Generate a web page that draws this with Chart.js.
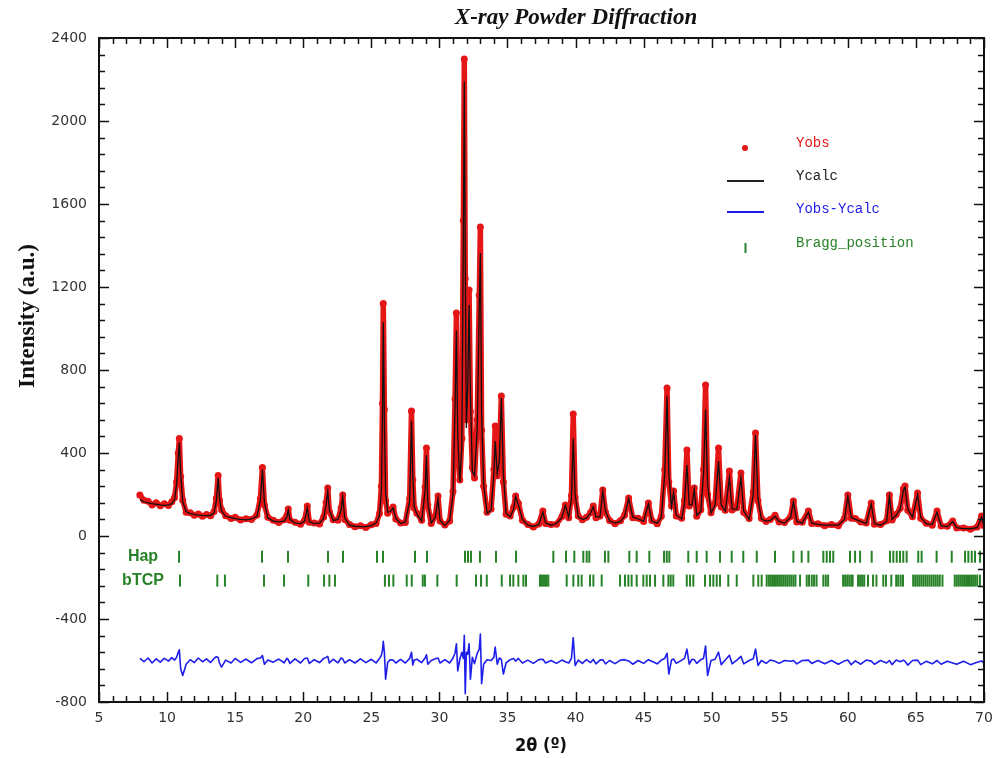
<!DOCTYPE html>
<html>
<head>
<meta charset="utf-8">
<title>X-ray Powder Diffraction</title>
<script src="https://cdn.jsdelivr.net/npm/chart.js@4.4.1/dist/chart.umd.min.js"></script>
<style>
    body { margin: 0; background: #fff; }
    #wrap { width: 1003px; height: 758px; }
</style>
</head>
<body>
<div id="wrap"><canvas id="chart" width="1003" height="758"></canvas></div>
<script>
// 2theta grid (deg)
let twoTheta = [
    8.0, 8.3, 8.6, 8.9, 9.2, 9.5, 9.8, 10.1, 10.35, 10.55,
    10.7, 10.82, 10.9, 11.0, 11.15, 11.4, 11.7, 12.0, 12.3, 12.6,
    12.9, 13.2, 13.45, 13.62, 13.75, 13.85, 14.0, 14.3, 14.7, 15.0,
    15.4, 15.8, 16.2, 16.6, 16.85, 17.0, 17.15, 17.4, 17.8, 18.2,
    18.6, 18.8, 18.9, 19.02, 19.4, 19.8, 20.1, 20.3, 20.45, 20.8,
    21.2, 21.5, 21.68, 21.8, 21.92, 22.2, 22.55, 22.78, 22.9, 23.05,
    23.4, 23.8, 24.2, 24.6, 25.0, 25.35, 25.6, 25.74, 25.82, 25.88,
    25.96, 26.05, 26.2, 26.4, 26.6, 26.8, 27.15, 27.5, 27.82, 27.95,
    28.05, 28.15, 28.35, 28.7, 28.95, 29.05, 29.15, 29.4, 29.7, 29.9,
    30.05, 30.4, 30.75, 31.0, 31.15, 31.25, 31.35, 31.5, 31.65, 31.76,
    31.83, 31.9, 31.98, 32.08, 32.18, 32.28, 32.42, 32.58, 32.78, 32.93,
    33.01, 33.1, 33.25, 33.5, 33.8, 34.0, 34.1, 34.25, 34.4, 34.55,
    34.7, 34.9, 35.2, 35.45, 35.6, 35.8, 36.1, 36.5, 36.9, 37.3,
    37.6, 37.8, 38.2, 38.6, 39.0, 39.25, 39.5, 39.7, 39.83, 39.97,
    40.2, 40.5, 40.8, 41.1, 41.3, 41.5, 41.8, 42.0, 42.2, 42.5,
    42.9, 43.3, 43.6, 43.9, 44.2, 44.6, 45.0, 45.35, 45.6, 46.0,
    46.3, 46.55, 46.72, 46.85, 47.05, 47.2, 47.4, 47.8, 48.0, 48.18,
    48.35, 48.55, 48.72, 48.9, 49.2, 49.4, 49.55, 49.7, 49.95, 50.25,
    50.5, 50.7, 51.0, 51.3, 51.5, 51.85, 52.15, 52.35, 52.75, 53.05,
    53.22, 53.4, 53.65, 54.0, 54.3, 54.65, 54.95, 55.35, 55.8, 56.0,
    56.25, 56.65, 57.1, 57.35, 57.8, 58.3, 58.8, 59.3, 59.75, 60.0,
    60.25, 60.55, 60.95, 61.35, 61.72, 61.95, 62.4, 62.85, 63.05, 63.25,
    63.55, 63.85, 64.08, 64.2, 64.4, 64.75, 65.12, 65.35, 65.75, 66.2,
    66.55, 66.85, 67.3, 67.7, 68.0, 68.5, 69.0, 69.5, 69.82, 70.0
];

let yObs = [
    198, 172, 168, 150, 160, 146, 156, 147, 165, 185,
    262, 400, 470, 285, 172, 114, 112, 100, 106, 95,
    104, 97, 118, 182, 292, 172, 126, 98, 84, 90,
    77, 83, 79, 101, 180, 330, 150, 90, 76, 65,
    78, 100, 130, 76, 66, 57, 76, 145, 66, 63,
    58, 92, 162, 231, 118, 78, 76, 135, 198, 80,
    55, 44, 49, 41, 54, 60, 108, 240, 640, 1120,
    610, 170, 110, 125, 140, 82, 63, 65, 182, 602,
    270, 135, 110, 76, 235, 424, 150, 60, 96, 193,
    72, 53, 72, 215, 660, 1075, 440, 270, 470, 1520,
    2299, 1240, 560, 760, 1185, 600, 330, 280, 560, 1160,
    1489, 510, 240, 115, 130, 320, 530, 290, 380, 675,
    260, 105, 96, 138, 193, 158, 76, 55, 43, 58,
    120, 60, 55, 57, 94, 150, 88, 195, 588, 185,
    96, 78, 90, 112, 145, 88, 96, 222, 115, 75,
    59, 74, 100, 183, 88, 86, 70, 159, 75, 59,
    95, 320, 713, 260, 145, 217, 96, 86, 170, 414,
    145, 158, 231, 95, 126, 320, 728, 200, 112, 158,
    424, 140, 124, 313, 125, 136, 304, 114, 84, 212,
    496, 170, 85, 70, 79, 100, 68, 65, 94, 169,
    67, 66, 120, 60, 59, 50, 55, 49, 84, 198,
    86, 84, 67, 63, 159, 57, 55, 73, 198, 77,
    104, 134, 228, 241, 124, 93, 207, 86, 62, 52,
    120, 48, 47, 72, 38, 39, 33, 43, 96, 50
];

let yCalc = [
    175, 165, 160, 156, 153, 150, 148, 150, 156, 175,
    250, 380, 450, 300, 165, 118, 108, 104, 101, 99,
    98, 100, 112, 170, 280, 180, 120, 95, 88, 84,
    80, 78, 82, 95, 170, 320, 160, 88, 72, 68,
    72, 92, 125, 80, 62, 60, 72, 135, 70, 60,
    62, 85, 150, 215, 125, 75, 80, 125, 190, 85,
    52, 47, 45, 45, 50, 62, 100, 220, 580, 1030,
    560, 210, 115, 118, 135, 85, 60, 68, 170, 555,
    290, 140, 105, 72, 220, 390, 160, 62, 90, 180,
    75, 50, 75, 200, 620, 990, 480, 260, 430, 1450,
    2190, 1350, 520, 720, 1113, 680, 310, 290, 520, 1100,
    1364, 600, 250, 110, 125, 300, 458, 300, 360, 665,
    300, 110, 92, 130, 190, 150, 80, 52, 46, 55,
    115, 62, 52, 60, 90, 148, 90, 180, 470, 200,
    92, 80, 86, 110, 140, 92, 92, 215, 120, 72,
    62, 70, 95, 180, 92, 82, 72, 155, 72, 62,
    90, 300, 674, 300, 140, 210, 100, 82, 160, 342,
    150, 150, 225, 100, 120, 300, 610, 250, 110, 150,
    361, 150, 120, 280, 130, 130, 280, 120, 80, 200,
    487, 180, 82, 72, 75, 95, 70, 62, 90, 165,
    70, 62, 115, 62, 56, 52, 52, 52, 80, 190,
    90, 80, 70, 60, 155, 60, 52, 70, 190, 80,
    100, 130, 220, 235, 130, 90, 200, 90, 60, 55,
    115, 50, 45, 70, 40, 36, 35, 40, 90, 45
];

// difference curve as drawn (shifted down in the plot)
let yDiff = [
    -590, -606, -588, -612, -592, -608, -590, -603, -586, -598,
    -584, -560, -548, -640, -672, -618, -596, -610, -588, -606,
    -592, -610, -590, -582, -586, -612, -632, -598, -612, -590,
    -609, -593, -611, -591, -588, -576, -618, -598, -608, -593,
    -611, -590, -596, -614, -592, -612, -590, -588, -614, -596,
    -610, -590, -585, -580, -612, -594, -611, -588, -592, -612,
    -596, -612, -592, -610, -594, -612, -590, -575, -552, -508,
    -560, -690, -610, -596, -598, -612, -595, -612, -590, -560,
    -622, -598, -594, -610, -588, -572, -618, -600, -592, -588,
    -612, -596, -612, -588, -565, -520, -650, -594, -560, -590,
    -478, -760, -560, -570, -520, -690, -585, -615, -565, -545,
    -472, -712, -618, -596, -600, -585, -535, -618, -588, -595,
    -665, -612, -596, -590, -603, -590, -612, -598, -614, -596,
    -594, -612, -600, -614, -598, -606, -612, -590, -490, -624,
    -598, -614, -596, -610, -595, -616, -598, -596, -616, -600,
    -615, -598, -596, -602, -618, -600, -614, -596, -604, -616,
    -598, -590, -565, -665, -598, -593, -614, -598, -590, -545,
    -618, -594, -596, -614, -596, -590, -530, -672, -600, -594,
    -560, -620, -598, -575, -616, -598, -580, -616, -600, -592,
    -545, -624, -600, -614, -598, -604, -614, -600, -604, -600,
    -616, -600, -598, -614, -600, -616, -600, -618, -602, -598,
    -620, -602, -618, -598, -603, -618, -600, -612, -600, -620,
    -598, -606, -598, -604, -622, -600, -598, -620, -604, -616,
    -600, -618, -604, -612, -618, -604, -620, -608, -602, -614
];

// Bragg reflections (2theta) of both phases
let hapPositions = [
    10.88, 16.97, 18.88, 21.82, 22.92, 25.42, 25.86, 28.21, 29.09, 31.88,
    32.1, 32.32, 32.98, 34.16, 35.63, 38.37, 39.3, 39.91, 40.57, 40.82,
    41.01, 42.16, 42.41, 43.95, 44.49, 45.42, 46.5, 46.7, 46.89, 48.28,
    48.9, 49.63, 50.61, 51.47, 52.32, 53.31, 54.65, 56.0, 56.61, 57.1,
    58.2, 58.45, 58.69, 58.93, 60.16, 60.53, 60.9, 61.75, 63.1, 63.34,
    63.59, 63.83, 64.07, 64.32, 65.17, 65.42, 66.52, 67.63, 68.61, 68.85,
    69.1, 69.34, 69.71
];

let tcpPositions = [
    10.95, 13.69, 14.25, 17.12, 18.59, 20.37, 21.53, 21.92, 22.33, 26.0,
    26.3, 26.62, 27.6, 27.97, 28.78, 28.94, 29.85, 31.27, 32.69, 33.06,
    33.48, 34.58, 35.19, 35.43, 35.8, 36.17, 36.36, 37.39, 37.52, 37.63,
    37.76, 37.88, 38.0, 39.35, 39.84, 40.2, 40.45, 41.06, 41.31, 41.92,
    43.27, 43.63, 43.88, 44.12, 44.49, 44.98, 45.23, 45.47, 45.84, 46.45,
    46.82, 46.99, 47.18, 48.17, 48.41, 48.65, 49.51, 49.88, 50.12, 50.37,
    50.61, 51.22, 51.84, 53.06, 53.42, 53.67, 54.04, 54.2, 54.35, 54.5,
    54.65, 54.8, 54.95, 55.1, 55.25, 55.4, 55.55, 55.7, 55.85, 56.0,
    56.15, 56.49, 56.98, 57.15, 57.35, 57.52, 57.7, 58.2, 58.38, 58.55,
    59.65, 59.8, 59.95, 60.1, 60.25, 60.35, 60.75, 60.9, 61.05, 61.2,
    61.48, 61.85, 62.1, 62.6, 62.8, 63.19, 63.55, 63.7, 63.88, 64.05,
    64.8, 64.95, 65.1, 65.25, 65.4, 65.55, 65.7, 65.85, 66.0, 66.15,
    66.3, 66.45, 66.6, 66.75, 66.95, 67.85, 68.0, 68.15, 68.3, 68.45,
    68.6, 68.75, 68.9, 69.05, 69.2, 69.35, 69.5, 69.7
];

let phaseNames = ['Hap', 'bTCP'];
let phaseLevels = [-100, -215];

let xTicks = [5, 10, 15, 20, 25, 30, 35, 40, 45, 50, 55, 60, 65, 70];
let yTicks = [-800, -400, 0, 400, 800, 1200, 1600, 2000, 2400];

let legendLabels = ['Yobs', 'Ycalc', 'Yobs-Ycalc', 'Bragg_position'];

const RED = 'rgb(228, 22, 22)';
const GREEN = 'rgb(40, 130, 40)';
const BLUE = 'rgb(30, 30, 235)';

let toPoints = function (xs, ys) {
    let pts = [];
    for (let i = 0; i < xs.length; i++) {
        pts.push({x: xs[i], y: ys[i]});
    }
    return pts;
}

let braggPoints = function (xs, level) {
    return xs.map(v => ({x: v, y: level}));
}

// frame, inward ticks on all 4 sides, titles, legend, phase names
const decorPlugin = {
    id: 'decor',
    afterDraw(chart) {
        const ctx = chart.ctx;
        const a = chart.chartArea;
        const xs = chart.scales.x;
        const ys = chart.scales.y;
        ctx.save();

        ctx.strokeStyle = '#111';
        ctx.lineWidth = 1.5;
        for (let v = 5; v <= 70; v++) {
            let px = Math.round(xs.getPixelForValue(v)) + 0.5;
            let len = (v % 5 === 0) ? 10 : 6;
            ctx.beginPath();
            ctx.moveTo(px, a.bottom); ctx.lineTo(px, a.bottom - len);
            ctx.moveTo(px, a.top); ctx.lineTo(px, a.top + len);
            ctx.stroke();
        }
        for (let v = -800; v <= 2400; v += 80) {
            let py = Math.round(ys.getPixelForValue(v)) + 0.5;
            let len = (v % 400 === 0) ? 10 : 6;
            ctx.beginPath();
            ctx.moveTo(a.left, py); ctx.lineTo(a.left + len, py);
            ctx.moveTo(a.right, py); ctx.lineTo(a.right - len, py);
            ctx.stroke();
        }
        ctx.lineWidth = 2;
        ctx.strokeRect(a.left, a.top, a.right - a.left, a.bottom - a.top);

        // title
        ctx.fillStyle = '#111';
        ctx.textAlign = 'center';
        ctx.textBaseline = 'alphabetic';
        ctx.font = 'bold italic 23px "Liberation Serif", "DejaVu Serif", serif';
        ctx.fillText('X-ray Powder Diffraction', 576, 24);

        // axis titles
        ctx.font = 'bold 18px "DejaVu Sans Condensed", "Liberation Sans Narrow", sans-serif';
        ctx.textBaseline = 'middle';
        ctx.fillText('2θ (º)', 541, 746);

        ctx.save();
        ctx.translate(34, 316);
        ctx.rotate(-Math.PI / 2);
        ctx.textBaseline = 'alphabetic';
        ctx.font = 'bold 23px "Liberation Serif", "DejaVu Serif", serif';
        ctx.fillText('Intensity (a.u.)', 0, 0);
        ctx.restore();

        // phase names
        ctx.font = 'bold 16px "Liberation Sans", Arial, sans-serif';
        ctx.fillStyle = GREEN;
        ctx.textBaseline = 'middle';
        for (let i = 0; i < phaseNames.length; i++) {
            ctx.fillText(phaseNames[i], 143, ys.getPixelForValue(phaseLevels[i]));
        }

        // legend
        ctx.font = '14px "Liberation Mono", "DejaVu Sans Mono", monospace';
        ctx.textAlign = 'left';
        const colors = [RED, '#222', BLUE, GREEN];
        const rows = [143, 176, 209, 243];
        for (let i = 0; i < legendLabels.length; i++) {
            ctx.fillStyle = colors[i];
            ctx.fillText(legendLabels[i], 796, rows[i]);
        }
        ctx.fillStyle = RED;
        ctx.beginPath(); ctx.arc(745, 148, 3, 0, Math.PI * 2); ctx.fill();
        ctx.lineWidth = 2;
        ctx.strokeStyle = '#222';
        ctx.beginPath(); ctx.moveTo(727, 181); ctx.lineTo(764, 181); ctx.stroke();
        ctx.strokeStyle = BLUE;
        ctx.beginPath(); ctx.moveTo(727, 212); ctx.lineTo(764, 212); ctx.stroke();
        ctx.strokeStyle = GREEN;
        ctx.beginPath(); ctx.moveTo(745.5, 243); ctx.lineTo(745.5, 253); ctx.stroke();

        ctx.restore();
    }
};

const ctx = document.getElementById('chart');

new Chart(ctx, {
    type: 'line',
    data: {
        datasets: [
            {
                label: 'Ycalc',
                data: toPoints(twoTheta, yCalc),
                borderColor: '#111',
                borderWidth: 1.3,
                pointRadius: 0,
                tension: 0
            },
            {
                label: 'Yobs',
                data: toPoints(twoTheta, yObs),
                borderColor: RED,
                borderWidth: 5.5,
                borderJoinStyle: 'round',
                borderCapStyle: 'round',
                pointRadius: 3.5,
                pointBackgroundColor: RED,
                pointBorderWidth: 0,
                tension: 0
            },
            {
                label: 'Yobs-Ycalc',
                data: toPoints(twoTheta, yDiff),
                borderColor: BLUE,
                borderWidth: 1.6,
                borderJoinStyle: 'round',
                pointRadius: 0,
                tension: 0
            },
            {
                label: phaseNames[0],
                data: braggPoints(hapPositions, phaseLevels[0]),
                showLine: false,
                pointStyle: 'line',
                rotation: 90,
                pointRadius: 6,
                pointBorderWidth: 2,
                pointBorderColor: GREEN
            },
            {
                label: phaseNames[1],
                data: braggPoints(tcpPositions, phaseLevels[1]),
                showLine: false,
                pointStyle: 'line',
                rotation: 90,
                pointRadius: 6,
                pointBorderWidth: 2,
                pointBorderColor: GREEN
            }
        ]
    },
    options: {
        responsive: false,
        animation: false,
        events: [],
        layout: { padding: { left: 0, right: 19, top: 38, bottom: 0 } },
        plugins: {
            legend: { display: false },
            tooltip: { enabled: false }
        },
        scales: {
            x: {
                type: 'linear',
                min: 5,
                max: 70,
                afterBuildTicks: s => { s.ticks = xTicks.map(v => ({value: v})); },
                afterFit: s => { s.height = 56; },
                grid: { display: false, drawTicks: false },
                border: { display: false },
                ticks: {
                    padding: 8,
                    maxRotation: 0,
                    autoSkip: false,
                    color: '#333',
                    callback: v => String(v),
                    font: { family: '"DejaVu Sans", sans-serif', size: 14 }
                }
            },
            y: {
                type: 'linear',
                min: -800,
                max: 2400,
                afterBuildTicks: s => { s.ticks = yTicks.map(v => ({value: v})); },
                afterFit: s => { s.width = 99; },
                grid: { display: false, drawTicks: false },
                border: { display: false },
                ticks: {
                    padding: 12,
                    color: '#333',
                    callback: v => String(v),
                    font: { family: '"DejaVu Sans", sans-serif', size: 14 }
                }
            }
        }
    },
    plugins: [decorPlugin]
});
</script>
</body>
</html>
